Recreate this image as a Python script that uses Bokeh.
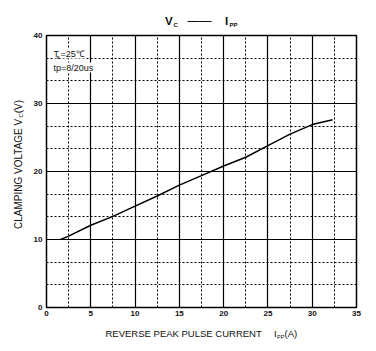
from bokeh.plotting import figure
from bokeh.models import Label, SingleIntervalTicker, Range1d
from bokeh.embed import file_html
from bokeh.resources import INLINE
import math

# ---- data ----
current = [1.6, 2.5, 5, 7.5, 10, 12.5, 15, 17.5, 20, 22.5, 25, 27.5, 30, 32.3]
voltage = [10.0, 10.5, 12.1, 13.4, 14.9, 16.4, 18.0, 19.4, 20.8, 22.1, 23.8, 25.5, 26.9, 27.6]
x_ticks = [0, 5, 10, 15, 20, 25, 30, 35]
y_ticks = [0, 10, 20, 30, 40]

W, H = 376, 351
L, R, T, B = 46, 20, 35, 44
FW, FH = W - L - R, H - T - B
X0, X1, Y0, Y1 = x_ticks[0], x_ticks[-1], y_ticks[0], y_ticks[-1]

def dx(px):
    return X0 + (px - L) * (X1 - X0) / FW

def dy(py):
    return Y0 + (H - B - py) * (Y1 - Y0) / FH

FONT = "Liberation Sans"
NB = "\u00a0"

p = figure(width=W, height=H, output_backend="svg", toolbar_location=None,
           x_range=Range1d(X0, X1), y_range=Range1d(Y0, Y1),
           min_border_left=L, min_border_right=R, min_border_top=T, min_border_bottom=B)
p.background_fill_color = "white"
p.border_fill_color = "white"
p.outline_line_color = "black"
p.outline_line_width = 1.5

p.xaxis.ticker = SingleIntervalTicker(interval=5, num_minor_ticks=2)
p.yaxis.ticker = SingleIntervalTicker(interval=10, num_minor_ticks=3)
for ax in (p.xaxis[0], p.yaxis[0]):
    ax.axis_line_color = None
    ax.major_tick_line_color = None
    ax.minor_tick_line_color = None
    ax.major_tick_out = 0
    ax.major_tick_in = 0
    ax.minor_tick_out = 0
    ax.minor_tick_in = 0
    ax.major_label_text_font = FONT
    ax.major_label_text_font_size = "8px"
    ax.major_label_text_font_style = "bold"
    ax.major_label_text_color = "#111111"
    ax.major_label_standoff = 4
p.xaxis.major_label_standoff = 3

for g in (p.xgrid[0], p.ygrid[0]):
    g.grid_line_color = "black"
    g.grid_line_width = 1.2
    g.grid_line_alpha = 1.0
    g.minor_grid_line_color = "black"
    g.minor_grid_line_width = 1
    g.minor_grid_line_dash = "2 2"
p.xgrid.ticker = SingleIntervalTicker(interval=5, num_minor_ticks=2)
p.ygrid.ticker = SingleIntervalTicker(interval=10, num_minor_ticks=3)

p.line(current, voltage, line_color="black", line_width=1.5)

def lab(text, px, py, size, style="normal", angle=0, bg=None, color="#111111", place="center"):
    lb = Label(x=dx(px), y=dy(py), text=text, text_font=FONT, text_font_size=size,
               text_font_style=style, text_color=color, text_align="left",
               text_baseline="alphabetic", angle=angle)
    if bg:
        lb.background_fill_color = bg
    p.add_layout(lb, place)

# title  (panel choice only affects layout budget; position is in data units)
lab("V", 164.5, 20, "11.5px", "bold", place="left")
lab("C", 173, 24, "6px", "bold", place="below")
lab("——", 187, 20, "12px", place="above")
lab("I", 224.5, 20, "11.5px", "bold", place="left")
lab("PP", 229, 24, "6px", "bold", place="right")

# x axis label
lab("REVERSE PEAK PULSE CURRENT", 105, 333, "9.5px", place="below")
lab("I", 273.5, 333, "9.5px", place="right")
lab("PP", 276.5, 336, "5.5px", place="below")
lab("(A)", 284, 333, "9.5px", place="above")

# y axis label (rotated)
a = math.pi / 2
lab("CLAMPING VOLTAGE V" + NB + NB + "(V)", 18, 228.5, "10px", angle=a, place="left")
lab("C", 20.5, 117.0, "6px", angle=a, place="left")

# annotation inside
lab("T", 53, 53, "9px", bg="white")
lab("a", 56, 56.5, "5.5px")
lab("=25℃", 60, 53, "9px", bg="white")
lab("tp=8/20us", 53, 67, "9px", bg="white")

open("out.html", "w").write(file_html(p, INLINE))
